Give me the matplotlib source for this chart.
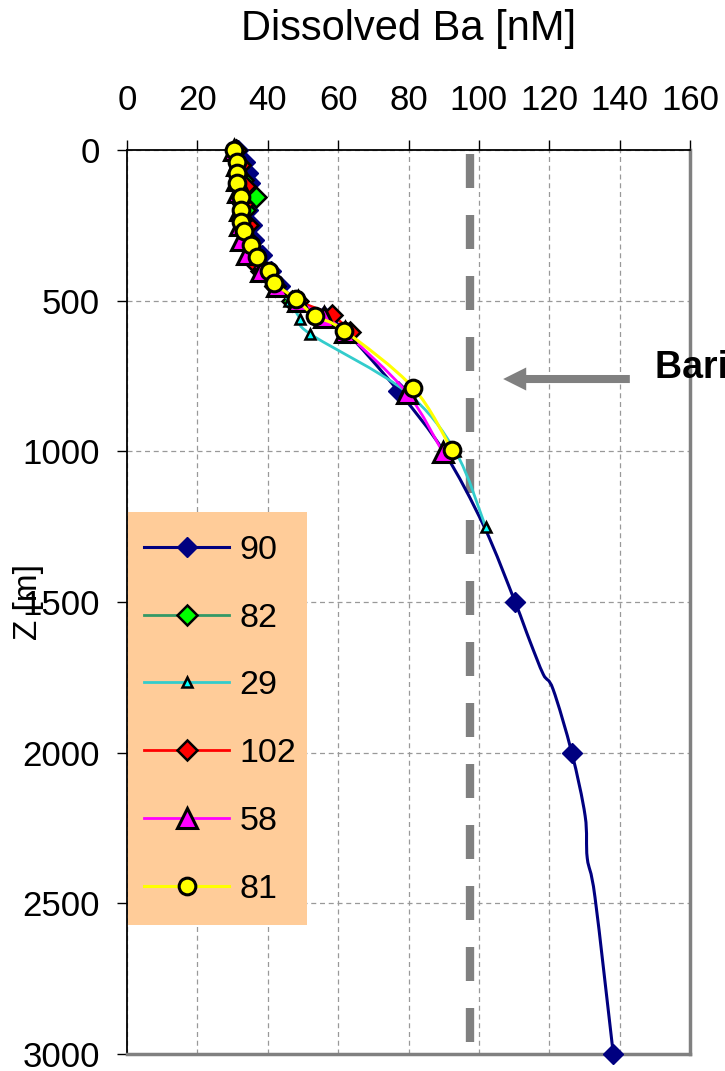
import numpy as np
import matplotlib
matplotlib.use("Agg")
import matplotlib.pyplot as plt
from matplotlib.lines import Line2D
from matplotlib.path import Path
from matplotlib.patches import PathPatch, Rectangle

plt.rcParams['font.family'] = ['Liberation Sans', 'DejaVu Sans']

# ---- Dissolved Ba profiles: depth [m] and concentration [nM] per station ----
st90_z = [0, 40, 75, 110, 150, 200, 250, 300, 350, 400, 450, 500, 550, 600, 800,
          1000, 1250, 1500, 1630, 1740, 1790, 2000, 2210, 2350, 2480, 3000]
st90_ba = [31.5, 33.5, 34.5, 35, 35, 34.5, 35.5, 36, 38.5, 41, 43.5, 48.5, 56, 62, 77.1,
           90, 101.5, 110.3, 114.5, 118.3, 121.1, 126.4, 130.2, 130.8, 133.0, 138.2]
# depths of station 90 that carry a symbol
st90_marked = [0, 40, 75, 110, 150, 200, 250, 300, 350, 400, 450, 500, 550, 600, 800,
               1500, 2000, 3000]

st82_z = [0, 50, 100, 155, 200, 250, 300, 350, 400, 450, 500]
st82_ba = [31, 32, 33, 36.8, 33.5, 34, 34.5, 36, 38, 42, 47]

st29_z = [0, 50, 100, 150, 200, 250, 300, 350, 400, 450, 500, 560, 610, 800, 1000, 1250]
st29_ba = [30.5, 31, 31, 31.5, 32, 32, 33, 35, 38, 42, 46, 49.2, 52, 79, 93.3, 101.9]

st102_z = [0, 50, 120, 180, 250, 300, 365, 400, 450, 500, 548, 603]
st102_ba = [31, 32, 33.5, 33, 34.5, 34.5, 35.5, 39, 42, 48.5, 58.2, 63.4]

st58_z = [0, 50, 100, 140, 200, 250, 300, 345, 400, 450, 500, 555, 605, 805, 1002]
st58_ba = [30.5, 31.3, 31.3, 31.5, 32, 32, 32.5, 34, 38, 42.5, 48.5, 56, 62, 79.5, 89.7]

st81_z = [0, 40, 75, 110, 155, 200, 240, 270, 315, 355, 400, 440, 495, 550, 600, 790, 995]
st81_ba = [30.5, 31.4, 31.4, 31.4, 32.3, 32.3, 32.5, 33.3, 35.2, 37.0, 40.4, 41.8, 48.0,
           53.4, 61.8, 81.4, 92.3]

station_labels = ['90', '82', '29', '102', '58', '81']

# Ba concentration at barite saturation
barite_sat_ba = 97.4
barite_depths = [0, 3000]
arrow_depth = 760
arrow_ba = [142.9, 106.9]   # tail, head

ba_ticks = [0, 20, 40, 60, 80, 100, 120, 140, 160]
z_ticks = [0, 500, 1000, 1500, 2000, 2500, 3000]

# ---- styles ----
line_styles = {
    '90': dict(color='#000080', lw=2.2),
    '82': dict(color='#339966', lw=2.0),
    '29': dict(color='#33CCCC', lw=2.0),
    '102': dict(color='#FF0000', lw=2.0),
    '58': dict(color='#FF00FF', lw=2.0),
    '81': dict(color='#FFFF00', lw=2.2),
}
marker_styles = {
    '90': dict(marker='D', ms=10.5, mfc='#000080', mec='#000080', mew=1),
    '82': dict(marker='D', ms=10, mfc='#00FF00', mec='black', mew=1.8),
    '29': dict(marker='^', ms=7.5, mfc='#00FFFF', mec='black', mew=1.8),
    '102': dict(marker='D', ms=10, mfc='#FF0000', mec='black', mew=1.8),
    '58': dict(marker='^', ms=14, mfc='#FF00FF', mec='black', mew=2.2),
    '81': dict(marker='o', ms=12, mfc='#FFFF00', mec='black', mew=2.2),
}


def smooth_path(x, y):
    """Smoothed line through the points (Catmull-Rom as cubic Bezier)."""
    pts = np.column_stack([x, y]).astype(float)
    n = len(pts)
    verts = [pts[0]]
    codes = [Path.MOVETO]
    for i in range(n - 1):
        p0 = pts[i - 1] if i > 0 else pts[i]
        p1, p2 = pts[i], pts[i + 1]
        p3 = pts[i + 2] if i + 2 < n else pts[i + 1]
        verts += [p1 + (p2 - p0) / 6.0, p2 - (p3 - p1) / 6.0, p2]
        codes += [Path.CURVE4] * 3
    return Path(verts, codes)


W, H = 725, 1071
AX_L, AX_R, AX_T, AX_B = 127, 690, 150, 1054
fig = plt.figure(figsize=(W / 100, H / 100), dpi=100)
ax = fig.add_axes([AX_L / W, 1 - AX_B / H, (AX_R - AX_L) / W, (AX_B - AX_T) / H])

profiles = [
    ('90', st90_z, st90_ba),
    ('82', st82_z, st82_ba),
    ('29', st29_z, st29_ba),
    ('102', st102_z, st102_ba),
    ('58', st58_z, st58_ba),
    ('81', st81_z, st81_ba),
]

for k, (name, z, ba) in enumerate(profiles):
    ls = line_styles[name]
    ax.add_patch(PathPatch(smooth_path(ba, z), fill=False, edgecolor=ls['color'],
                           lw=ls['lw'], joinstyle='round', capstyle='round',
                           zorder=3 + k, clip_on=False))
    mz, mba = z, ba
    if name == '90':
        keep = [i for i, d in enumerate(z) if d in st90_marked]
        mz = [z[i] for i in keep]
        mba = [ba[i] for i in keep]
    ax.plot(mba, mz, ls='none', zorder=3 + k + 0.5, clip_on=False, **marker_styles[name])

# barite saturation line and arrow
period = 34 + 27
ax.plot([barite_sat_ba, barite_sat_ba], barite_depths, color='#808080', lw=6,
        ls=((period - 4) * 0.72 / 6, (34 * 0.72 / 6, 27 * 0.72 / 6)),
        dash_capstyle='butt', zorder=2.5)
ax.annotate('', xy=(arrow_ba[1], arrow_depth), xytext=(arrow_ba[0], arrow_depth),
            arrowprops=dict(arrowstyle='simple,head_length=1.66,head_width=1.66,tail_width=0.58',
                            mutation_scale=10, color='#808080', shrinkA=0, shrinkB=0,
                            lw=0))
fig.text(655 / W, 1 - 368 / H, 'Barite saturation', fontsize=27, fontweight='bold',
         ha='left', va='center')

# axes
ax.set_xlim(ba_ticks[0], ba_ticks[-1])
ax.set_ylim(z_ticks[-1], z_ticks[0])
ax.set_xticks(ba_ticks)
ax.set_yticks(z_ticks)
ax.xaxis.tick_top()
ax.tick_params(axis='x', top=True, bottom=False, direction='out', length=7, width=1,
               pad=16.5, labelsize=25, colors='black')
ax.tick_params(axis='y', left=True, right=False, direction='out', length=7, width=1,
               pad=12.6, labelsize=25, colors='black')
ax.grid(True, ls=(0, (4, 3)), color='#999999', lw=0.9)
ax.set_axisbelow(True)

for s in ('left', 'top'):
    ax.spines[s].set_color('black')
    ax.spines[s].set_linewidth(1.3)
for s in ('right', 'bottom'):
    ax.spines[s].set_color('#808080')
    ax.spines[s].set_linewidth(2.5)

ax.set_xlabel('Dissolved Ba [nM]', fontsize=30)
ax.xaxis.set_label_position('top')
ax.xaxis.set_label_coords(0.5, (AX_B - 29) / (AX_B - AX_T))
ax.xaxis.label.set_va('center')

ax.set_ylabel('Z [m]', fontsize=24)
ax.yaxis.set_label_coords((29 - AX_L) / (AX_R - AX_L), 0.5)
ax.yaxis.label.set_va('center')

# legend: tan panel plus entries
aw, ah = AX_R - AX_L, AX_B - AX_T
panel = Rectangle(((127.5 - AX_L) / aw, (AX_B - 925) / ah), (307 - 127.5) / aw,
                  (925 - 512) / ah, transform=ax.transAxes, facecolor='#FFCC99',
                  edgecolor='none', zorder=19, clip_on=False)
ax.add_patch(panel)
handles = [Line2D([], [], **line_styles[n], **marker_styles[n]) for n in station_labels]
leg = ax.legend(handles, station_labels, loc='upper left',
                bbox_to_anchor=(-5.5 / aw, (AX_B - 512) / ah),
                borderaxespad=0, frameon=False, fontsize=24.5, handlelength=2.5,
                handletextpad=0.3, labelspacing=1.08, borderpad=0.67, numpoints=1)
leg.set_zorder(20)

fig.savefig('out.png', dpi=100)
